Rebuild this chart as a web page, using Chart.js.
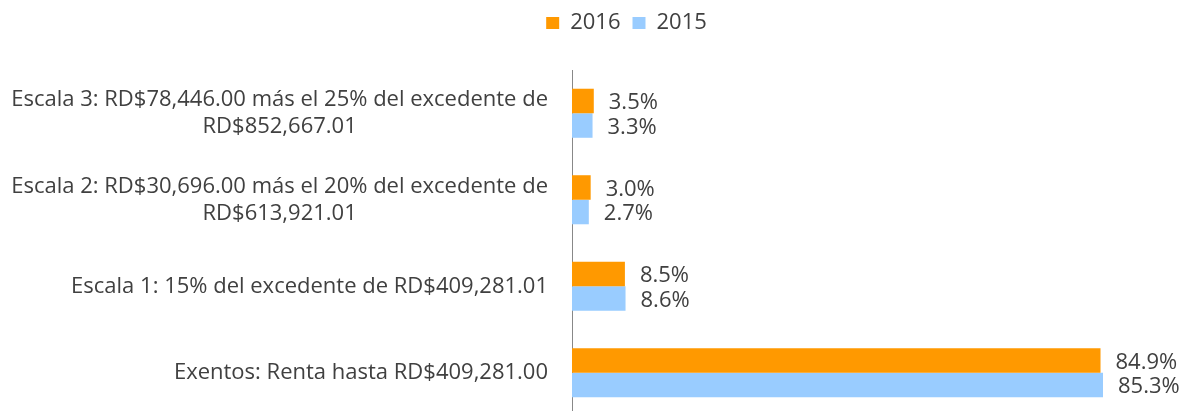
<!DOCTYPE html>
<html>
<head>
<meta charset="utf-8">
<script src="https://cdn.jsdelivr.net/npm/chart.js@4"></script>
<style>
html,body{margin:0;padding:0;background:#fff;overflow:hidden;}
#wrap{width:1183px;height:416px;position:relative;}
</style>
</head>
<body>
<div id="wrap"><canvas id="c"></canvas></div>
<script>
const categories = [
  ["Escala 3: RD$78,446.00 más el 25% del excedente de", "RD$852,667.01"],
  ["Escala 2: RD$30,696.00 más el 20% del excedente de", "RD$613,921.01"],
  ["Escala 1: 15% del excedente de RD$409,281.01"],
  ["Exentos: Renta hasta RD$409,281.00"]
];
const seriesNames = ["2016", "2015"];
const values2016 = [3.5, 3.0, 8.5, 84.9];
const values2015 = [3.3, 2.7, 8.6, 85.3];

const FONT = "'Open Sans', sans-serif";
const TEXT = "#404040";

const legendMargin = {
  id: 'legendMargin',
  beforeInit(chart) {
    const fit = chart.legend.fit;
    chart.legend.fit = function () {
      fit.bind(chart.legend)();
      this.height += 26;
    };
  },
  afterLayout(chart) {
    chart.legend.left += 35;
    chart.legend.right += 35;
  }
};

const labelPlugin = {
  id: 'labels',
  afterDatasetsDraw(chart) {
    const ctx = chart.ctx;
    ctx.save();
    ctx.font = "22px " + FONT;
    ctx.fillStyle = TEXT;
    ctx.textAlign = 'left';
    ctx.textBaseline = 'middle';
    chart.data.datasets.forEach((ds, i) => {
      const meta = chart.getDatasetMeta(i);
      meta.data.forEach((el, j) => {
        ctx.fillText(ds.data[j].toFixed(1) + '%', el.x + 15, el.y + 2);
      });
    });
    const ys = chart.scales.y;
    ctx.textAlign = 'center';
    const right = ys.right - 24;
    const lh = 27;
    chart.data.labels.forEach((lines, j) => {
      const cy = ys.getPixelForValue(j);
      let w = 0;
      lines.forEach(l => { w = Math.max(w, ctx.measureText(l).width); });
      const cx = right - w / 2;
      const y0 = cy - (lines.length - 1) * lh / 2;
      lines.forEach((l, k) => ctx.fillText(l, cx, y0 + k * lh));
    });
    ctx.restore();
  }
};

new Chart(document.getElementById('c'), {
  type: 'bar',
  data: {
    labels: categories,
    datasets: [
      { label: seriesNames[0], data: values2016, backgroundColor: '#FF9900', borderWidth: 0 },
      { label: seriesNames[1], data: values2015, backgroundColor: '#99CCFF', borderWidth: 0 }
    ]
  },
  options: {
    indexAxis: 'y',
    responsive: true,
    maintainAspectRatio: false,
    animation: false,
    categoryPercentage: 0.567,
    barPercentage: 1.0,
    layout: { padding: { top: 0, right: 0, bottom: 0, left: 0 } },
    plugins: {
      legend: {
        position: 'top',
        align: 'center',
        labels: {
          boxWidth: 13,
          boxHeight: 12,
          padding: 12,
          color: TEXT,
          font: { family: FONT, size: 22 }
        }
      },
      tooltip: { enabled: false }
    },
    scales: {
      x: {
        display: false,
        min: 0,
        max: 98.15
      },
      y: {
        grid: { display: false, drawTicks: false },
        border: { display: true, color: '#888888', width: 1 },
        ticks: { display: false },
        afterFit(scale) { scale.width = 572; }
      }
    }
  },
  plugins: [legendMargin, labelPlugin]
});
</script>
</body>
</html>
